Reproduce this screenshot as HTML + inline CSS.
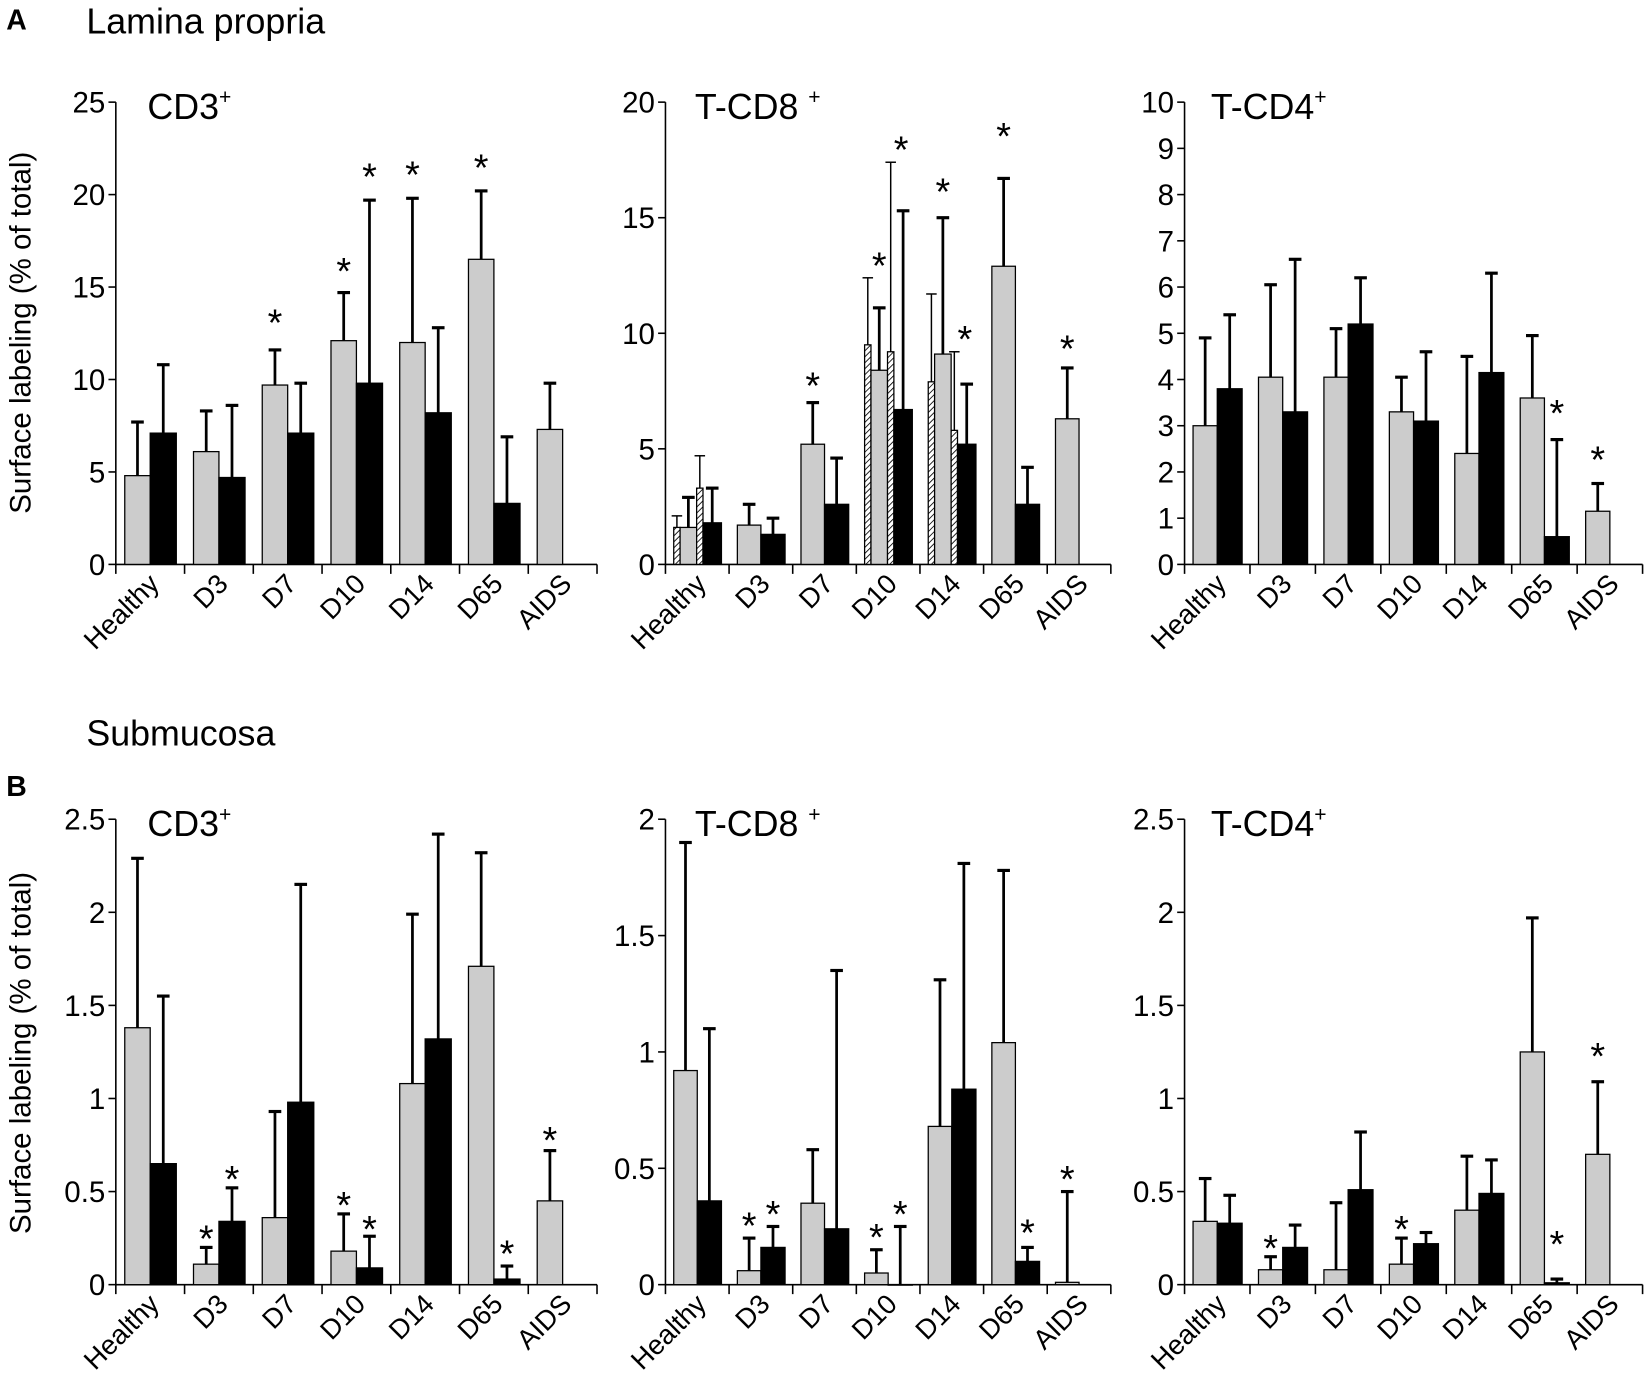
<!DOCTYPE html>
<html><head><meta charset="utf-8">
<style>
html,body{margin:0;padding:0;background:#fff;}
svg{display:block;font-family:"Liberation Sans",Arial,sans-serif;}
</style></head>
<body>
<svg id="fig" width="1651" height="1391" viewBox="0 0 1568 1321" preserveAspectRatio="none" xmlns="http://www.w3.org/2000/svg">
<defs>
<pattern id="hatch" width="4" height="4" patternUnits="userSpaceOnUse" patternTransform="rotate(45)">
<rect width="4" height="4" fill="#fff"/><line x1="0" y1="0" x2="0" y2="4" stroke="#000" stroke-width="1.6"/>
</pattern>
</defs>
<text x="6" y="28" font-size="27" font-weight="bold">A</text>
<text x="82" y="32" font-size="34">Lamina propria</text>
<text x="82" y="708" font-size="34">Submucosa</text>
<text x="6" y="756" font-size="27" font-weight="bold">B</text>
<text transform="translate(29,316) rotate(-90)" text-anchor="middle" font-size="28">Surface labeling (% of total)</text>
<text transform="translate(29,1000) rotate(-90)" text-anchor="middle" font-size="28">Surface labeling (% of total)</text>
<g id="charts"></g>
</svg>
<script>
const categories = ["Healthy","D3","D7","D10","D14","D65","AIDS"];

// Panel A – CD3+
const a1Gray = [4.8,6.1,9.7,12.1,12.0,16.5,7.3];
const a1GrayErr = [7.7,8.3,11.6,14.7,19.8,20.2,9.8];
const a1Black = [7.1,4.7,7.1,9.8,8.2,3.3,null];
const a1BlackErr = [10.8,8.6,9.8,19.7,12.8,6.9,null];
const a1GrayStar = [null,null,13.4,16.2,21.4,21.8,null];
const a1BlackStar = [null,null,null,21.3,null,null,null];
const a1Ticks = [0,5,10,15,20,25];

// Panel A – T-CD8+
const a2Gray = [1.6,1.7,5.2,8.4,9.1,12.9,6.3];
const a2GrayErr = [2.9,2.6,7.0,11.1,15.0,16.7,8.5];
const a2Black = [1.8,1.3,2.6,6.7,5.2,2.6,null];
const a2BlackErr = [3.3,2.0,4.6,15.3,7.8,4.2,null];
const a2Hatch1 = [1.6,null,null,9.5,7.9,null,null];
const a2Hatch1Err = [2.1,null,null,12.4,11.7,null,null];
const a2Hatch2 = [3.3,null,null,9.2,5.8,null,null];
const a2Hatch2Err = [4.7,null,null,17.4,9.2,null,null];
const a2GrayStar = [null,null,8.0,13.2,16.4,18.8,9.6];
const a2BlackStar = [null,null,null,18.2,10.0,null,null];
const a2Ticks = [0,5,10,15,20];

// Panel A – T-CD4+
const a3Gray = [3.0,4.05,4.05,3.3,2.4,3.6,1.15];
const a3GrayErr = [4.9,6.05,5.1,4.05,4.5,4.95,1.75];
const a3Black = [3.8,3.3,5.2,3.1,4.15,0.6,null];
const a3BlackErr = [5.4,6.6,6.2,4.6,6.3,2.7,null];
const a3GrayStar = [null,null,null,null,null,null,2.4];
const a3BlackStar = [null,null,null,null,null,3.4,null];
const a3Ticks = [0,1,2,3,4,5,6,7,8,9,10];

// Panel B – CD3+
const b1Gray = [1.38,0.11,0.36,0.18,1.08,1.71,0.45];
const b1GrayErr = [2.29,0.20,0.93,0.38,1.99,2.32,0.72];
const b1Black = [0.65,0.34,0.98,0.09,1.32,0.03,null];
const b1BlackErr = [1.55,0.52,2.15,0.26,2.42,0.10,null];
const b1GrayStar = [null,0.28,null,0.46,null,null,0.81];
const b1BlackStar = [null,0.60,null,0.33,null,0.2,null];
const b1Ticks = [0,0.5,1,1.5,2,2.5];

// Panel B – T-CD8+
const b2Gray = [0.92,0.06,0.35,0.05,0.68,1.04,0.01];
const b2GrayErr = [1.9,0.20,0.58,0.15,1.31,1.78,0.40];
const b2Black = [0.36,0.16,0.24,0.0,0.84,0.10,null];
const b2BlackErr = [1.10,0.25,1.35,0.25,1.81,0.16,null];
const b2GrayStar = [null,0.28,null,0.23,null,null,0.48];
const b2BlackStar = [null,0.33,null,0.33,null,0.25,null];
const b2Ticks = [0,0.5,1,1.5,2];

// Panel B – T-CD4+
const b3Gray = [0.34,0.08,0.08,0.11,0.40,1.25,0.70];
const b3GrayErr = [0.57,0.15,0.44,0.25,0.69,1.97,1.09];
const b3Black = [0.33,0.20,0.51,0.22,0.49,0.01,null];
const b3BlackErr = [0.48,0.32,0.82,0.28,0.67,0.03,null];
const b3GrayStar = [null,0.23,null,0.33,null,null,1.26];
const b3BlackStar = [null,null,null,null,null,0.25,null];
const b3Ticks = [0,0.5,1,1.5,2,2.5];

const NS = "http://www.w3.org/2000/svg";
const root = document.getElementById("charts");
function mk(tag, attrs, parent){
  const e = document.createElementNS(NS, tag);
  for (const k in attrs) e.setAttribute(k, attrs[k]);
  (parent||root).appendChild(e);
  return e;
}

function chart(cfg){
  const g = mk("g", {});
  
  
  const x0 = cfg.x0, x1 = cfg.x1, yTop = cfg.yTop, yZero = cfg.yZero, max = cfg.max;
  const gw = (x1 - x0) / categories.length;
  const y = v => yZero - (v / max) * (yZero - yTop);
  const ya = mk("line", {x1:x0, y1:yTop, x2:x0, y2:yZero, stroke:"#000", "stroke-width":1.5}, g);
  
  
  cfg.ticks.forEach(t => {
    const tl = mk("line", {x1:x0-7, y1:y(t), x2:x0, y2:y(t), stroke:"#000", "stroke-width":1.5}, g);
    
    
    const tx = mk("text", {x:x0-10, y:y(t)+10, "text-anchor":"end", "font-size":28}, g);
    
    
    tx.textContent = String(t);
  });
  const xa = mk("line", {x1:x0, y1:yZero, x2:x1, y2:yZero, stroke:"#000", "stroke-width":1.5}, g);
  
  
  for (let i = 0; i <= categories.length; i++) {
    const tl = mk("line", {x1:x0+i*gw, y1:yZero, x2:x0+i*gw, y2:yZero+9, stroke:"#000", "stroke-width":1.5}, g);
    
    
  }
  categories.forEach((c, i) => {
    const cx = x0 + (i + 0.5) * gw + 10, cy = yZero + 20;
    const tx = mk("text", {x:cx, y:cy, "text-anchor":"end", "font-size":26, transform:`rotate(-45 ${cx} ${cy})`}, g);
    
    
    tx.textContent = c;
  });
  const tt = mk("text", {x:cfg.titleX, y:yTop+16, "font-size":34}, g);
  
  
  tt.textContent = cfg.title;
  const sup = mk("tspan", {"font-size":20, dy:-14}, tt);
  sup.textContent = "+";

  function bar(v, err, off, w, fill, name, thin){
    if (v == null) return;
    const bx = x0 + off * gw, bwid = w * gw;
    const top = y(v);
    if (err != null) {
      const cx = bx + bwid / 2, sw = thin ? 1.4 : 2.6, hw = thin ? 5 : 6;
      const el = mk("line", {x1:cx, y1:top, x2:cx, y2:y(err), stroke:"#000", "stroke-width":sw}, g);
      
      
      const cap = mk("line", {x1:cx-hw, y1:y(err), x2:cx+hw, y2:y(err), stroke:"#000", "stroke-width":thin?1.4:3}, g);
      
      
    }
    const r = mk("rect", {x:bx, y:Math.min(top, yZero), width:bwid, height:Math.max(Math.abs(yZero-top),0.5), fill:fill, stroke:"#000", "stroke-width":1.2}, g);
    
    
  }
  function star(v, off, w, name){
    if (v == null) return;
    const cx = x0 + (off + w/2) * gw;
    const s = mk("text", {x:cx, y:y(v)+18, "text-anchor":"middle", "font-size":36}, g);
    
    
    s.textContent = "*";
  }
  categories.forEach((c, i) => {
    const hatched = cfg.h1 && cfg.h1[i] != null;
    const base = i * 1;
    if (hatched) {
      bar(cfg.h1[i], cfg.h1e[i], base+0.13, 0.10, "url(#hatch)", 'hatched-bar-' + c.toLowerCase(), true);
      bar(cfg.gray[i], cfg.grayErr[i], base+0.23, 0.26, "#cccccc", 'gray-bar-' + c.toLowerCase(), false);
      bar(cfg.h2[i], cfg.h2e[i], base+0.49, 0.10, "url(#hatch)", 'hatched-bar-2-' + c.toLowerCase(), true);
      bar(cfg.black[i], cfg.blackErr[i], base+0.59, 0.29, "#000", 'black-bar-' + c.toLowerCase(), false);
      star(cfg.gStar[i], base+0.23, 0.26, 'significance-star');
      star(cfg.bStar[i], base+0.56, 0.29, 'significance-star');
    } else {
      bar(cfg.gray[i], cfg.grayErr[i], base+0.13, 0.37, "#cccccc", 'gray-bar-' + c.toLowerCase(), false);
      bar(cfg.black[i], cfg.blackErr[i], base+0.50, 0.38, "#000", 'black-bar-' + c.toLowerCase(), false);
      star(cfg.gStar[i], base+0.13, 0.37, 'significance-star');
      star(cfg.bStar[i], base+0.50, 0.38, 'significance-star');
    }
  });
}

const topA = 97, zeroA = 536, topB = 778, zeroB = 1220;
const xs = [[110,567],[632,1055],[1125,1560]];

chart({name:"chart-a-cd3", x0:xs[0][0], x1:xs[0][1], yTop:topA, yZero:zeroA, max:25, ticks:a1Ticks, title:"CD3", titleX:140,
  gray:a1Gray, grayErr:a1GrayErr, black:a1Black, blackErr:a1BlackErr, gStar:a1GrayStar, bStar:a1BlackStar});
chart({name:"chart-a-cd8", x0:xs[1][0], x1:xs[1][1], yTop:topA, yZero:zeroA, max:20, ticks:a2Ticks, title:"T-CD8 ", titleX:660,
  gray:a2Gray, grayErr:a2GrayErr, black:a2Black, blackErr:a2BlackErr, gStar:a2GrayStar, bStar:a2BlackStar,
  h1:a2Hatch1, h1e:a2Hatch1Err, h2:a2Hatch2, h2e:a2Hatch2Err});
chart({name:"chart-a-cd4", x0:xs[2][0], x1:xs[2][1], yTop:topA, yZero:zeroA, max:10, ticks:a3Ticks, title:"T-CD4", titleX:1150,
  gray:a3Gray, grayErr:a3GrayErr, black:a3Black, blackErr:a3BlackErr, gStar:a3GrayStar, bStar:a3BlackStar});
chart({name:"chart-b-cd3", x0:xs[0][0], x1:xs[0][1], yTop:topB, yZero:zeroB, max:2.5, ticks:b1Ticks, title:"CD3", titleX:140,
  gray:b1Gray, grayErr:b1GrayErr, black:b1Black, blackErr:b1BlackErr, gStar:b1GrayStar, bStar:b1BlackStar});
chart({name:"chart-b-cd8", x0:xs[1][0], x1:xs[1][1], yTop:topB, yZero:zeroB, max:2, ticks:b2Ticks, title:"T-CD8 ", titleX:660,
  gray:b2Gray, grayErr:b2GrayErr, black:b2Black, blackErr:b2BlackErr, gStar:b2GrayStar, bStar:b2BlackStar});
chart({name:"chart-b-cd4", x0:xs[2][0], x1:xs[2][1], yTop:topB, yZero:zeroB, max:2.5, ticks:b3Ticks, title:"T-CD4", titleX:1150,
  gray:b3Gray, grayErr:b3GrayErr, black:b3Black, blackErr:b3BlackErr, gStar:b3GrayStar, bStar:b3BlackStar});
</script>
</body></html>
